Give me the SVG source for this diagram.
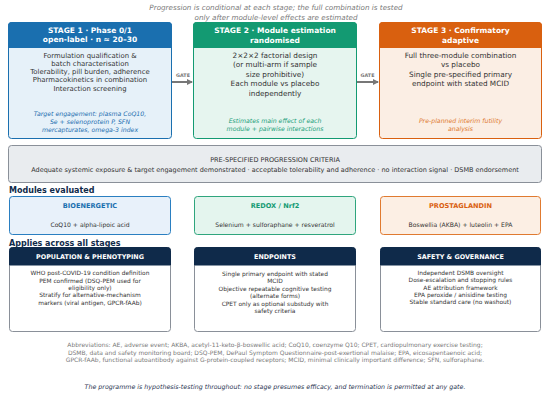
<svg xmlns="http://www.w3.org/2000/svg" width="550" height="395" viewBox="0 0 550 395">
<defs>
<marker id="ah" markerWidth="6" markerHeight="6" refX="5" refY="3" orient="auto" markerUnits="userSpaceOnUse"><path d="M0,0 L6,3 L0,6 z" fill="#777"/></marker>
</defs>
<style>
text{font-family:"DejaVu Sans","Liberation Sans",sans-serif;text-anchor:middle}
.cap{font-size:7.2px;font-style:italic;fill:#7a7a7a}
.hd{font-size:7.5px;font-weight:bold;fill:#fff}
.bd{font-size:6.9px;fill:#333}
.bd2{font-size:7.3px;fill:#333}
.it{font-size:6.2px;font-style:italic}
.gate{font-size:4.8px;font-weight:bold;fill:#777}
.crit{font-size:6.5px;fill:#333}
.sec{font-size:8px;font-weight:bold;fill:#0f2a4a;text-anchor:start}
.mt{font-size:6.6px;font-weight:bold}
.ms{font-size:6.1px;fill:#333}
.bt{font-size:6.4px;font-weight:bold;fill:#fff}
.bb{font-size:5.9px;fill:#333}
.ab{font-size:6px;fill:#7a7a7a}
.fin{font-size:6.3px;font-style:italic;fill:#1f3350}
</style>
<rect width="550" height="395" fill="#fff"/>
<text class="cap" x="276" y="9.5">Progression is conditional at each stage; the full combination is tested</text>
<text class="cap" x="276" y="19.5">only after module-level effects are estimated</text>

<g id="stage1">
<rect x="8.5" y="22.5" width="163" height="116" rx="3" fill="#e6f1f9" stroke="#1a6faf"/>
<path d="M8.5,47.5 V25.5 a3,3 0 0 1 3,-3 H168.5 a3,3 0 0 1 3,3 V47.5 z" fill="#1a6faf" stroke="#1a6faf"/>
<text class="hd" x="90" y="33">STAGE 1  ·  Phase 0/1</text>
<text class="hd" x="90" y="42">open-label  ·  n ≈ 20–30</text>
<text class="bd" x="90" y="57.5">Formulation qualification &amp;</text>
<text class="bd" x="90" y="65.8">batch characterisation</text>
<text class="bd" x="90" y="74.1">Tolerability, pill burden, adherence</text>
<text class="bd" x="90" y="82.4">Pharmacokinetics in combination</text>
<text class="bd" x="90" y="90.7">Interaction screening</text>
<text class="it" x="90" y="115.5" fill="#1f6fb0">Target engagement: plasma CoQ10,</text>
<text class="it" x="90" y="123.5" fill="#1f6fb0">Se + selenoprotein P, SFN</text>
<text class="it" x="90" y="131.5" fill="#1f6fb0">mercapturates, omega-3 index</text>
</g>

<g id="stage2">
<rect x="193.5" y="22.5" width="163" height="116" rx="3" fill="#e6f5ef" stroke="#139a72"/>
<path d="M193.5,47.5 V25.5 a3,3 0 0 1 3,-3 H353.5 a3,3 0 0 1 3,3 V47.5 z" fill="#139a72" stroke="#139a72"/>
<text class="hd" x="275" y="33">STAGE 2  ·  Module estimation</text>
<text class="hd" x="275" y="42.5">randomised</text>
<text class="bd2" x="275" y="57.5">2×2×2 factorial design</text>
<text class="bd2" x="275" y="67">(or multi-arm if sample</text>
<text class="bd2" x="275" y="76.5">size prohibitive)</text>
<text class="bd2" x="275" y="86">Each module vs placebo</text>
<text class="bd2" x="275" y="95.5">independently</text>
<text class="it" x="275" y="122.5" fill="#22a07a">Estimates main effect of each</text>
<text class="it" x="275" y="130.5" fill="#22a07a">module + pairwise interactions</text>
</g>

<g id="stage3">
<rect x="379.5" y="22.5" width="162" height="116" rx="3" fill="#fbeee4" stroke="#d9600f"/>
<path d="M379.5,47.5 V25.5 a3,3 0 0 1 3,-3 H538.5 a3,3 0 0 1 3,3 V47.5 z" fill="#d9600f" stroke="#d9600f"/>
<text class="hd" x="460.5" y="33">STAGE 3  ·  Confirmatory</text>
<text class="hd" x="460.5" y="42.5">adaptive</text>
<text class="bd2" x="460.5" y="57.5">Full three-module combination</text>
<text class="bd2" x="460.5" y="67">vs placebo</text>
<text class="bd2" x="460.5" y="76.5">Single pre-specified primary</text>
<text class="bd2" x="460.5" y="86">endpoint with stated MCID</text>
<text class="it" x="460.5" y="122.5" fill="#e07a30">Pre-planned interim futility</text>
<text class="it" x="460.5" y="130.5" fill="#e07a30">analysis</text>
</g>

<g id="connectors">
<line x1="172" y1="82" x2="192" y2="82" stroke="#777" stroke-width="2" marker-end="url(#ah)"/>
<text class="gate" x="183" y="77">GATE</text>
<line x1="357" y1="82" x2="378" y2="82" stroke="#777" stroke-width="2" marker-end="url(#ah)"/>
<text class="gate" x="367.5" y="77">GATE</text>
</g>

<g id="criteria">
<rect x="8.5" y="145.5" width="533" height="37" rx="3" fill="#e9ecef" stroke="#8a9099"/>
<text class="crit" x="275" y="162">PRE-SPECIFIED PROGRESSION CRITERIA</text>
<text class="crit" x="275" y="171.5">Adequate systemic exposure &amp; target engagement demonstrated  ·  acceptable tolerability and adherence  ·  no interaction signal  ·  DSMB endorsement</text>
</g>

<text class="sec" x="9" y="193">Modules evaluated</text>

<g id="bioenergetic">
<rect x="9.5" y="196.5" width="161" height="38" rx="3" fill="#e8f1fa" stroke="#2a7fc1"/>
<text class="mt" x="90" y="207.5" fill="#1a6faf">BIOENERGETIC</text>
<text class="ms" x="90" y="226.5">CoQ10 + alpha-lipoic acid</text>
</g>
<g id="redox">
<rect x="194.5" y="196.5" width="161" height="38" rx="3" fill="#e4f5ee" stroke="#2fa57d"/>
<text class="mt" x="275" y="207.5" fill="#139a72">REDOX / Nrf2</text>
<text class="ms" x="275" y="226.5">Selenium + sulforaphane + resveratrol</text>
</g>
<g id="prostaglandin">
<rect x="380.5" y="196.5" width="160" height="38" rx="3" fill="#fcefe4" stroke="#e07a30"/>
<text class="mt" x="460.5" y="207.5" fill="#d9600f">PROSTAGLANDIN</text>
<text class="ms" x="460.5" y="226.5">Boswellia (AKBA) + luteolin + EPA</text>
</g>

<text class="sec" x="9" y="245.5">Applies across all stages</text>

<g id="population">
<rect x="9.5" y="247.5" width="161" height="84" rx="3" fill="#fff" stroke="#8a9099"/>
<path d="M9.5,265 V250.5 a3,3 0 0 1 3,-3 H167.5 a3,3 0 0 1 3,3 V265 z" fill="#0f2a4a" stroke="#0f2a4a"/>
<text class="bt" x="90" y="258.5">POPULATION &amp; PHENOTYPING</text>
<text class="bb" x="90" y="275.3">WHO post-COVID-19 condition definition</text>
<text class="bb" x="90" y="282.6">PEM confirmed (DSQ-PEM used for</text>
<text class="bb" x="90" y="289.9">eligibility only)</text>
<text class="bb" x="90" y="297.2">Stratify for alternative-mechanism</text>
<text class="bb" x="90" y="304.5">markers (viral antigen, GPCR-fAAb)</text>
</g>
<g id="endpoints">
<rect x="194.5" y="247.5" width="161" height="84" rx="3" fill="#fff" stroke="#8a9099"/>
<path d="M194.5,265 V250.5 a3,3 0 0 1 3,-3 H352.5 a3,3 0 0 1 3,3 V265 z" fill="#0f2a4a" stroke="#0f2a4a"/>
<text class="bt" x="275" y="258.5">ENDPOINTS</text>
<text class="bb" x="275" y="275.5">Single primary endpoint with stated</text>
<text class="bb" x="275" y="283">MCID</text>
<text class="bb" x="275" y="290.5">Objective repeatable cognitive testing</text>
<text class="bb" x="275" y="298">(alternate forms)</text>
<text class="bb" x="275" y="305.5">CPET only as optional substudy with</text>
<text class="bb" x="275" y="313">safety criteria</text>
</g>
<g id="safety">
<rect x="380.5" y="247.5" width="160" height="84" rx="3" fill="#fff" stroke="#8a9099"/>
<path d="M380.5,265 V250.5 a3,3 0 0 1 3,-3 H537.5 a3,3 0 0 1 3,3 V265 z" fill="#0f2a4a" stroke="#0f2a4a"/>
<text class="bt" x="460.5" y="258.5">SAFETY &amp; GOVERNANCE</text>
<text class="bb" x="460.5" y="275">Independent DSMB oversight</text>
<text class="bb" x="460.5" y="282.3">Dose-escalation and stopping rules</text>
<text class="bb" x="460.5" y="289.6">AE attribution framework</text>
<text class="bb" x="460.5" y="296.9">EPA peroxide / anisidine testing</text>
<text class="bb" x="460.5" y="304.2">Stable standard care (no washout)</text>
</g>

<text class="ab" x="275" y="347.3">Abbreviations: AE, adverse event; AKBA, acetyl-11-keto-β-boswellic acid; CoQ10, coenzyme Q10; CPET, cardiopulmonary exercise testing;</text>
<text class="ab" x="275" y="354.6">DSMB, data and safety monitoring board; DSQ-PEM, DePaul Symptom Questionnaire-post-exertional malaise; EPA, eicosapentaenoic acid;</text>
<text class="ab" x="275" y="361.9">GPCR-fAAb, functional autoantibody against G-protein-coupled receptors; MCID, minimal clinically important difference; SFN, sulforaphane.</text>

<text class="fin" x="275" y="388.5">The programme is hypothesis-testing throughout: no stage presumes efficacy, and termination is permitted at any gate.</text>
</svg>
